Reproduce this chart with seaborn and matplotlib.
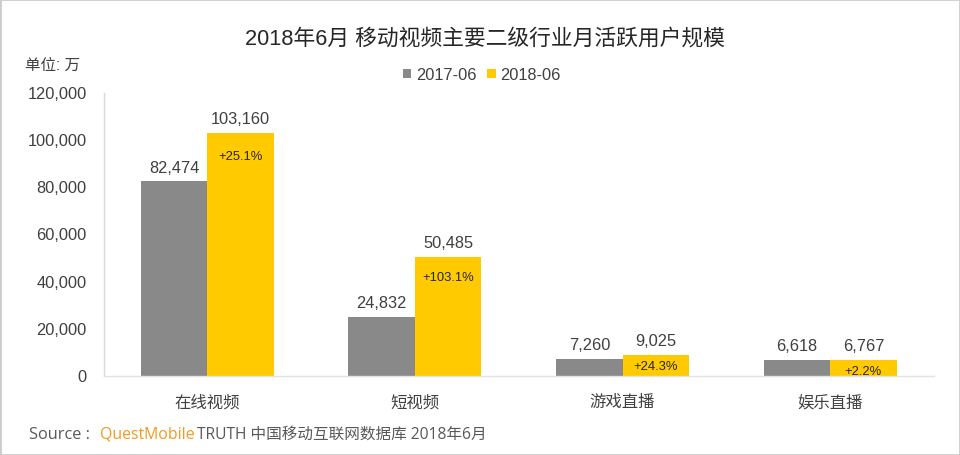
import pandas as pd
import matplotlib.pyplot as plt
from matplotlib.patches import Rectangle
from matplotlib.transforms import ScaledTranslation
import seaborn as sns

# data
categories = ["在线视频", "短视频", "游戏直播", "娱乐直播"]
values_2017 = [82474, 24832, 7260, 6618]
values_2018 = [103160, 50485, 9025, 6767]
growth_labels = ["+25.1%", "+103.1%", "+24.3%", "+2.2%"]
series_names = ["2017-06", "2018-06"]
y_ticks = [0, 20000, 40000, 60000, 80000, 100000, 120000]

sns.set_theme(style="white")
plt.rcParams["font.family"] = ["Liberation Sans", "Noto Sans CJK SC", "DejaVu Sans"]

df = pd.DataFrame({
    "category": categories * 2,
    "value": values_2017 + values_2018,
    "series": [series_names[0]] * 4 + [series_names[1]] * 4,
})

W, H = 960, 456
fig = plt.figure(figsize=(W / 100, H / 100), dpi=100)
ax = fig.add_axes([103.5 / W, 1 - 377 / H, (934 - 103.5) / W, (377 - 94) / H])

sns.barplot(data=df, x="category", y="value", hue="series", ax=ax,
            palette=["#898989", "#FFCB00"], width=0.64, gap=0,
            saturation=1, linewidth=0, legend=True)

ax.set_ylim(0, 120000)
ax.set_xlim(-0.5, 3.5)
ax.set_yticks(y_ticks)
ax.set_yticklabels([f"{v:,}" for v in y_ticks])
ax.set_xlabel("")
ax.set_ylabel("")
ax.tick_params(axis="y", length=0, labelsize=11.8, labelcolor="#404040", pad=12)
ax.tick_params(axis="x", length=0, labelsize=11.8, labelcolor="#404040", pad=13)

# y labels sit a pixel above the gridline positions in the reference
nudge = ScaledTranslation(0, 1 / 100, fig.dpi_scale_trans)
for label in ax.get_yticklabels():
    label.set_transform(label.get_transform() + nudge)

sns.despine(ax=ax)
ax.spines["left"].set_color("#D9D9D9")
ax.spines["bottom"].set_color("#E3E3E3")
ax.spines["left"].set_linewidth(1)
ax.spines["bottom"].set_linewidth(1)

# value labels above the bars, growth labels inside the yellow ones
ax.bar_label(ax.containers[0], fmt="{:,.0f}", padding=5, fontsize=11.8, color="#404040")
ax.bar_label(ax.containers[1], fmt="{:,.0f}", padding=5, fontsize=11.8, color="#404040")
growth_drop = [-23, -20, -11, -11]
for bar, label, drop in zip(ax.containers[1], growth_labels, growth_drop):
    ax.annotate(label, (bar.get_x() + bar.get_width() / 2, bar.get_height()),
                xytext=(0, drop), textcoords="offset pixels", ha="center", va="center",
                fontsize=9.4, color="#262626", annotation_clip=False, clip_on=True)

handles, labels = ax.get_legend_handles_labels()
ax.legend(handles, labels, loc="center", bbox_to_anchor=(482 / W, 1 - 76 / H),
          bbox_transform=fig.transFigure, ncol=2, frameon=False, fontsize=11.8,
          handlelength=0.5, handleheight=0.5, handletextpad=0.3, columnspacing=0.65,
          labelcolor="#404040")

fig.text(485 / W, 1 - 39 / H, "2018年6月 移动视频主要二级行业月活跃用户规模",
         ha="center", va="center", fontsize=15.7, color="#262626")
fig.text(25 / W, 1 - 65 / H, "单位: 万", ha="left", va="center", fontsize=11.2, color="#404040")

# source line
src_font = ["Open Sans", "Noto Sans CJK SC", "DejaVu Sans"]
fig.text(29 / W, 1 - 435 / H, "Source :", ha="left", va="center", fontsize=11.8,
         color="#595959", family=src_font)
fig.text(100 / W, 1 - 435 / H, "QuestMobile", ha="left", va="center", fontsize=11.4,
         color="#F7981D", family=src_font)
fig.text(197 / W, 1 - 435 / H, "TRUTH 中国移动互联网数据库 2018年6月", ha="left", va="center",
         fontsize=11.25, color="#595959", family=src_font)

# thin frame round the image
fig.add_artist(Rectangle((0, 0), 1, 1, transform=fig.transFigure, fill=False,
                         edgecolor="#CCCCCC", linewidth=2))

fig.savefig("out.png", dpi=100)
